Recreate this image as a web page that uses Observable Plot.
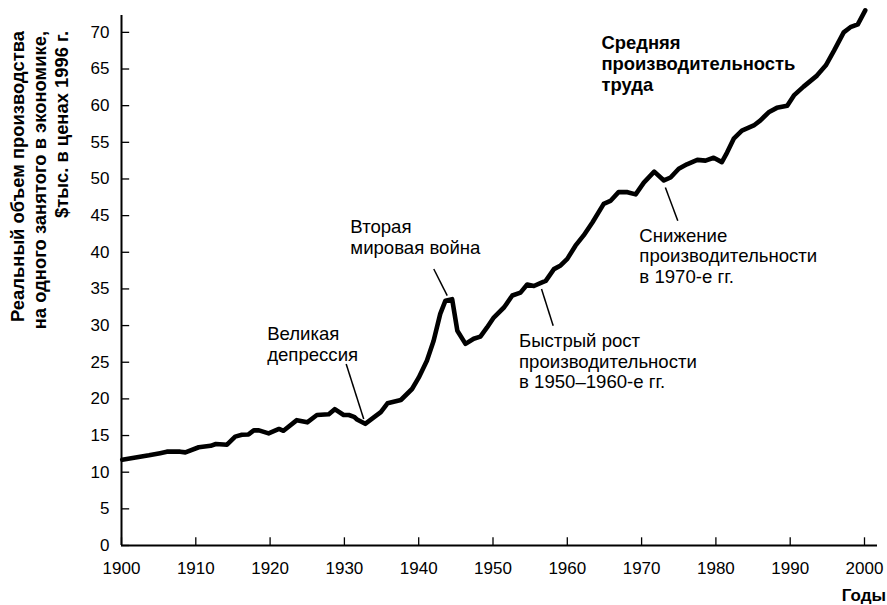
<!DOCTYPE html>
<html>
<head>
<meta charset="utf-8">
<script src="https://cdn.jsdelivr.net/npm/d3@7"></script>
<script src="https://cdn.jsdelivr.net/npm/@observablehq/plot@0.6"></script>
<style>
  html, body { margin: 0; padding: 0; background: #fff; }
</style>
</head>
<body>
<div id="chart"></div>
<script>
// Years and average labour productivity, $ thousand (1996 prices)
const years = [
  1900.1, 1901.9, 1903.7, 1905.2, 1906.1, 1907.9, 1908.6, 1910.4, 1912.0, 1912.7,
  1914.2, 1915.3, 1916.2, 1917.1, 1917.8, 1918.5, 1919.8, 1921.2, 1921.8, 1923.6,
  1925.0, 1926.3, 1927.9, 1928.7, 1929.9, 1930.6, 1931.3, 1931.7, 1932.8, 1934.0,
  1934.9, 1935.8, 1937.6, 1939.1, 1940.0, 1941.1, 1942.0, 1942.9, 1943.6, 1944.5,
  1945.2, 1946.3, 1947.4, 1948.3, 1949.2, 1950.1, 1951.5, 1952.6, 1953.7, 1954.6,
  1955.5, 1956.6, 1957.1, 1958.2, 1959.1, 1960.0, 1961.1, 1962.2, 1963.4, 1964.9,
  1965.8, 1966.9, 1968.1, 1969.2, 1970.3, 1971.7, 1973.0, 1973.9, 1975.0, 1976.1,
  1977.5, 1978.6, 1979.7, 1980.8, 1981.5, 1982.4, 1983.5, 1985.1, 1986.0, 1987.1,
  1988.2, 1989.6, 1990.5, 1991.8, 1993.6, 1994.8, 1995.9, 1997.2, 1998.1, 1999.1,
  2000.1
];
const productivity = [
  11.7, 12.0, 12.3, 12.6, 12.8, 12.8, 12.7, 13.4, 13.6, 13.85,
  13.75, 14.85, 15.1, 15.15, 15.7, 15.7, 15.3, 15.9, 15.65, 17.1,
  16.8, 17.8, 17.9, 18.6, 17.8, 17.8, 17.55, 17.2, 16.6, 17.5,
  18.2, 19.4, 19.85, 21.35, 22.9, 25.2, 27.9, 31.6, 33.4, 33.6,
  29.3, 27.5, 28.2, 28.5, 29.75, 31.1, 32.5, 34.1, 34.5, 35.6,
  35.4, 35.9, 36.1, 37.7, 38.2, 39.1, 40.9, 42.3, 44.1, 46.6,
  47.0, 48.2, 48.2, 47.9, 49.5, 51.0, 49.8, 50.2, 51.4, 52.0,
  52.6, 52.5, 52.9, 52.3, 53.6, 55.5, 56.6, 57.3, 58.0, 59.1,
  59.7, 60.0, 61.4, 62.6, 64.1, 65.5, 67.5, 70.0, 70.7, 71.1,
  73.0
];

const xTicks = [1900, 1910, 1920, 1930, 1940, 1950, 1960, 1970, 1980, 1990, 2000];
const yTicks = [0, 5, 10, 15, 20, 25, 30, 35, 40, 45, 50, 55, 60, 65, 70];

const yTitleLines = [
  "Реальный объем производства",
  "на одного занятого в экономике,",
  "$тыс. в ценах 1996 г."
];
const xTitle = "Годы";

// Annotations: text, anchor (year, value)
const noteTexts = [
  "Великая\nдепрессия",
  "Вторая\nмировая война",
  "Быстрый рост\nпроизводительности\nв 1950–1960-е гг.",
  "Снижение\nпроизводительности\nв 1970-е гг."
];
const noteX = [1919.6, 1930.8, 1953.5, 1969.7];
const noteY = [30.0, 44.6, 29.0, 43.4];

const seriesLabel = "Средняя\nпроизводительность\nтруда";
const seriesLabelX = [1964.6];
const seriesLabelY = [69.8];

// Leader lines: from (x1,y1) to (x2,y2)
const leadX1 = [1930.24, 1942.03, 1956.53, 1973.2];
const leadY1 = [24.76, 37.72, 34.99, 48.85];
const leadX2 = [1932.6, 1943.84, 1958.1, 1974.87];
const leadY2 = [17.26, 34.08, 29.99, 44.31];

const data = years.map((y, i) => ({year: y, value: productivity[i]}));
const notes = noteTexts.map((t, i) => ({text: t, x: noteX[i], y: noteY[i]}));
const leaders = leadX1.map((x, i) => ({x1: x, y1: leadY1[i], x2: leadX2[i], y2: leadY2[i]}));

const X_MAX = 2001.75;
const Y_MAX = 72.3;

const plot = Plot.plot({
  width: 887,
  height: 605,
  marginLeft: 121,
  marginRight: 10,
  marginTop: 15,
  marginBottom: 60,
  style: {fontFamily: "'Liberation Sans', Arial, sans-serif", fontSize: "17px", color: "#000", background: "#fff"},
  x: {domain: [1900, X_MAX]},
  y: {domain: [0, Y_MAX]},
  marks: [
    Plot.axisX({ticks: xTicks, tickSize: 0, tickPadding: 16, tickFormat: d => String(d), label: null, fontSize: 17}),
    Plot.axisY({ticks: yTicks, tickSize: 0, tickPadding: 12, label: null, fontSize: 17}),
    Plot.ruleX(xTicks, {x: d => d, y1: 0, y2: 1.05, stroke: "#000", strokeWidth: 1.3}),
    Plot.ruleY(yTicks, {y: d => d, x1: 1900, x2: 1901.1, stroke: "#000", strokeWidth: 1.3}),
    Plot.ruleY([0], {x1: 1900, x2: X_MAX, stroke: "#000", strokeWidth: 2}),
    Plot.ruleX([1900], {y1: 0, y2: Y_MAX, stroke: "#000", strokeWidth: 2}),
    Plot.line(data, {x: "year", y: "value", stroke: "#000", strokeWidth: 4.6, strokeLinejoin: "round", strokeLinecap: "round"}),
    Plot.link(leaders, {x1: "x1", y1: "y1", x2: "x2", y2: "y2", stroke: "#000", strokeWidth: 1.5}),
    Plot.text(notes, {x: "x", y: "y", text: "text", textAnchor: "start", lineAnchor: "top", lineHeight: 1.1, fontSize: 18.6, fill: "#000"}),
    Plot.text([seriesLabel], {x: () => seriesLabelX[0], y: () => seriesLabelY[0], text: d => d, textAnchor: "start", lineAnchor: "top", lineHeight: 1.14, fontSize: 18.4, fontWeight: "bold", fill: "#000"})
  ]
});

const svg = d3.select(plot);
const titleX = [24, 46, 68];
yTitleLines.forEach((t, i) => {
  svg.append("text")
    .attr("transform", `translate(${titleX[i]},31) rotate(-90)`)
    .attr("text-anchor", "end")
    .attr("font-weight", "bold")
    .attr("font-size", 18.4)
    .attr("fill", "#000")
    .text(t);
});
svg.append("text")
  .attr("x", 886)
  .attr("y", 601)
  .attr("text-anchor", "end")
  .attr("font-weight", "bold")
  .attr("font-size", 17)
  .attr("fill", "#000")
  .text(xTitle);

document.getElementById("chart").appendChild(plot);
</script>
</body>
</html>
